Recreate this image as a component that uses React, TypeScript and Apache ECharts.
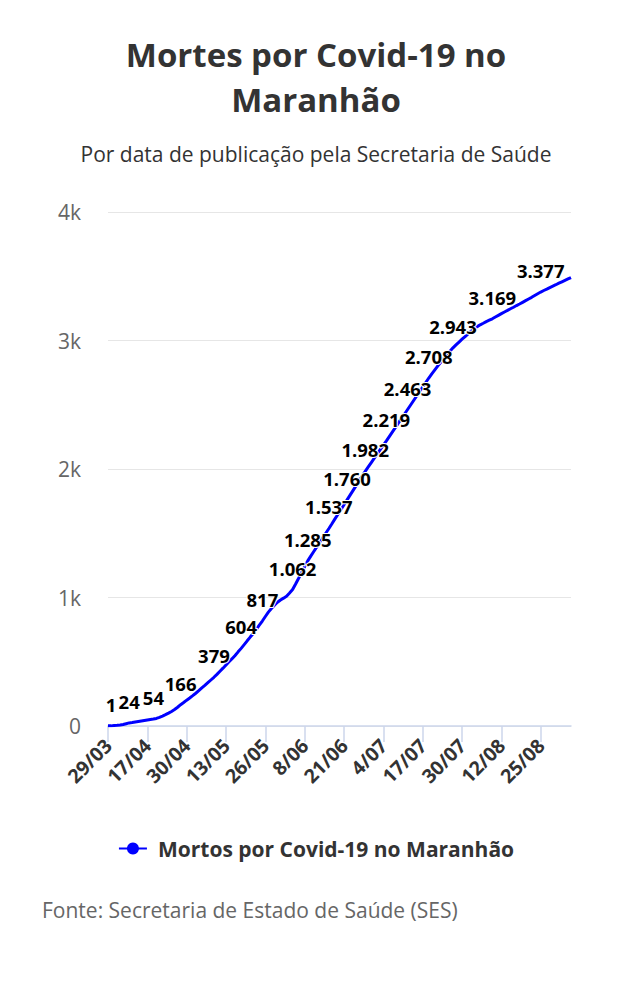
import React, { useEffect, useRef } from "react";
import * as echarts from "echarts";

const FONT = '"Open Sans", sans-serif';

const TITLE = "Mortes por Covid-19 no\nMaranhão";
const SUBTITLE = "Por data de publicação pela Secretaria de Saúde";
const SERIES_NAME = "Mortos por Covid-19 no Maranhão";
const SOURCE = "Fonte: Secretaria de Estado de Saúde (SES)";

const DATES_MAR_APR = [
  "29/03", "31/03", "1/04", "3/04", "4/04", "6/04", "7/04", "9/04", "10/04", "12/04", "13/04", "15/04", "16/04",
  "17/04", "18/04", "19/04", "20/04", "21/04", "22/04", "23/04", "24/04", "25/04", "26/04", "27/04", "28/04", "29/04", "30/04",
];
const DATES_MAY = [
  "1/05", "2/05", "3/05", "4/05", "5/05", "6/05", "7/05", "8/05", "9/05", "10/05", "11/05", "12/05", "13/05", "14/05", "15/05", "16/05",
  "17/05", "18/05", "19/05", "20/05", "21/05", "22/05", "23/05", "24/05", "25/05", "26/05", "27/05", "28/05", "29/05", "30/05", "31/05",
];
const DATES_JUN = [
  "1/06", "2/06", "3/06", "4/06", "5/06", "6/06", "7/06", "8/06", "9/06", "10/06", "11/06", "12/06", "13/06", "14/06", "15/06",
  "16/06", "17/06", "18/06", "19/06", "20/06", "21/06", "22/06", "23/06", "24/06", "25/06", "26/06", "27/06", "28/06", "29/06", "30/06",
];
const DATES_JUL = [
  "1/07", "2/07", "3/07", "4/07", "5/07", "6/07", "7/07", "8/07", "9/07", "10/07", "11/07", "12/07", "13/07", "14/07", "15/07", "16/07",
  "17/07", "18/07", "19/07", "20/07", "21/07", "22/07", "23/07", "24/07", "25/07", "26/07", "27/07", "28/07", "29/07", "30/07", "31/07",
];
const DATES_AUG = [
  "1/08", "2/08", "3/08", "4/08", "5/08", "6/08", "7/08", "8/08", "9/08", "10/08", "11/08", "12/08", "13/08", "14/08", "15/08", "16/08",
  "17/08", "18/08", "19/08", "20/08", "21/08", "22/08", "23/08", "24/08", "25/08", "26/08", "27/08", "28/08", "29/08", "30/08", "31/08",
];
const DATES_SEP = ["1/09", "2/09", "3/09", "4/09"];

const DEATHS_MAR_APR = [
  1, 1, 3, 5, 8, 12, 18, 24, 27, 31, 35, 39, 43,
  47, 51, 54, 59, 67, 77, 88, 100, 113, 128, 146, 166, 183, 201,
];
const DEATHS_MAY = [
  218, 236, 255, 275, 296, 316, 337, 358, 379, 402, 426, 450, 475, 500, 524, 549,
  577, 604, 633, 663, 692, 720, 752, 785, 817, 852, 886, 914, 940, 963, 981,
];
const DEATHS_JUN = [
  995, 1010, 1035, 1062, 1105, 1150, 1196, 1241, 1285, 1322, 1358, 1394, 1430, 1467, 1502,
  1537, 1574, 1612, 1648, 1686, 1722, 1760, 1797, 1834, 1871, 1908, 1945, 1982, 2016, 2050,
];
const DEATHS_JUL = [
  2084, 2118, 2152, 2186, 2219, 2254, 2289, 2324, 2359, 2394, 2428, 2463, 2498, 2533, 2568, 2603,
  2638, 2673, 2708, 2740, 2771, 2802, 2832, 2861, 2889, 2916, 2943, 2966, 2988, 3010, 3031,
];
const DEATHS_AUG = [
  3052, 3072, 3091, 3108, 3122, 3134, 3147, 3158, 3169, 3183, 3196, 3209, 3222, 3234, 3247, 3259,
  3272, 3284, 3297, 3310, 3323, 3336, 3350, 3364, 3377, 3389, 3400, 3412, 3423, 3434, 3446,
];
const DEATHS_SEP = [3457, 3468, 3479, 3490];

// indexes of the points that carry a value label
const LABELLED_POINTS = [1, 7, 15, 24, 35, 44, 51, 61, 66, 73, 79, 85, 92, 99, 106, 114, 127, 143];

const Y_MIN = 0;
const Y_MAX = 4000;
const Y_STEP = 1000;

const CATEGORIES = [
  ...DATES_MAR_APR, ...DATES_MAY, ...DATES_JUN, ...DATES_JUL, ...DATES_AUG, ...DATES_SEP,
];
const DEATHS = [
  ...DEATHS_MAR_APR, ...DEATHS_MAY, ...DEATHS_JUN, ...DEATHS_JUL, ...DEATHS_AUG, ...DEATHS_SEP,
];

const fmtThousands = (v: number) => String(v).replace(/\B(?=(\d{3})+(?!\d))/g, ".");

export default function App() {
  const ref = useRef<HTMLDivElement>(null);

  useEffect(() => {
    if (!ref.current) return;
    const chart = echarts.init(ref.current, undefined, { renderer: "svg" });
    const labelled = new Set(LABELLED_POINTS);
    const data = DEATHS.map((v, i) =>
      labelled.has(i) ? { value: v, label: { show: true } } : { value: v }
    );

    chart.setOption({
      animation: false,
      backgroundColor: "#ffffff",
      textStyle: { fontFamily: FONT },
      title: [
        {
          text: TITLE,
          left: "center",
          top: 27,
          textStyle: {
            fontFamily: FONT,
            fontSize: 33,
            fontWeight: "bold",
            color: "#333333",
            lineHeight: 45,
          },
        },
        {
          text: SUBTITLE,
          left: "center",
          top: 135,
          textStyle: {
            fontFamily: FONT,
            fontSize: 21,
            fontWeight: "normal",
            color: "#333333",
            lineHeight: 28,
          },
        },
      ],
      legend: {
        data: [SERIES_NAME],
        left: "center",
        top: 833,
        itemWidth: 28,
        itemHeight: 15,
        itemGap: 10,
        textStyle: {
          fontFamily: FONT,
          fontSize: 21,
          fontWeight: "bold",
          color: "#333333",
          padding: [0, 0, 0, 6],
        },
      },
      grid: { left: 108, right: 61, top: 212, bottom: 274, containLabel: false },
      xAxis: {
        type: "category",
        data: CATEGORIES,
        boundaryGap: false,
        axisLine: { show: true, lineStyle: { color: "#ccd6eb", width: 1.5 } },
        axisTick: {
          show: true,
          interval: 12,
          length: 16,
          lineStyle: { color: "#ccd6eb", width: 1.5 },
        },
        axisLabel: {
          interval: 12,
          rotate: 45,
          margin: 16,
          fontFamily: FONT,
          fontSize: 19.5,
          fontWeight: "bold",
          color: "#333333",
        },
        splitLine: { show: false },
      },
      yAxis: {
        type: "value",
        min: Y_MIN,
        max: Y_MAX,
        interval: Y_STEP,
        axisLine: { show: false },
        axisTick: { show: false },
        axisLabel: {
          margin: 27,
          fontFamily: FONT,
          fontSize: 21,
          color: "#666666",
          formatter: (v: number) => (v === 0 ? "0" : v / 1000 + "k"),
        },
        splitLine: { lineStyle: { color: "#e6e6e6", width: 1 } },
      },
      series: [
        {
          name: SERIES_NAME,
          type: "line",
          data,
          color: "#0000ff",
          symbol: "circle",
          symbolSize: 0,
          showSymbol: true,
          showAllSymbol: true,
          lineStyle: { color: "#0000ff", width: 3 },
          itemStyle: { color: "#0000ff" },
          label: {
            show: false,
            position: "top",
            distance: 12,
            fontFamily: FONT,
            fontSize: 18.5,
            fontWeight: "bold",
            color: "#000000",
            textBorderColor: "#ffffff",
            textBorderWidth: 2,
            formatter: (p: any) => fmtThousands(p.value),
          },
          emphasis: { disabled: true },
          z: 3,
        },
      ],
      graphic: [
        {
          type: "text",
          left: 42,
          top: 899,
          style: {
            text: SOURCE,
            fontFamily: FONT,
            fontSize: 21,
            fill: "#666666",
          },
        },
      ],
    });

    return () => chart.dispose();
  }, []);

  return (
    <div
      ref={ref}
      style={{ position: "fixed", left: 0, top: 0, width: 632, height: 1000, background: "#fff" }}
    />
  );
}
